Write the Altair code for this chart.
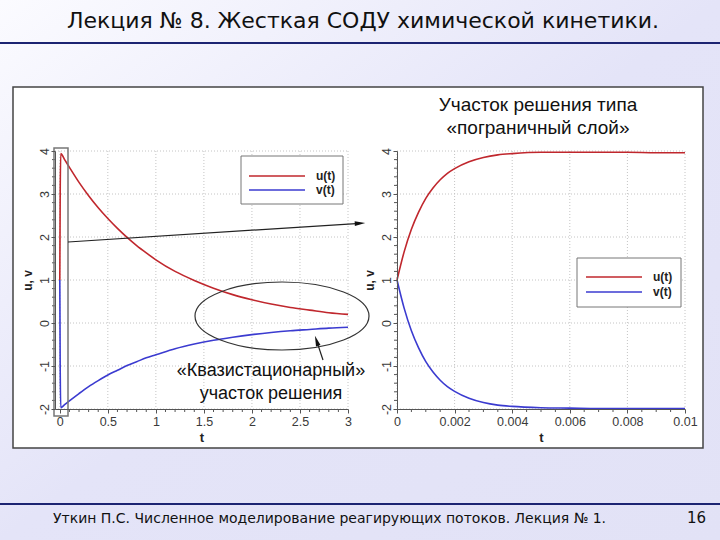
import altair as alt
import pandas as pd

# ---------------- texts ----------------
TITLE = "Лекция № 8. Жесткая СОДУ химической кинетики."
FOOTER = "Уткин П.С. Численное моделирование реагирующих потоков. Лекция № 1."
PAGE = "16"
RIGHT_TITLE = "Участок решения типа\n«пограничный слой»"
NOTE = "«Квазистационарный»\nучасток решения"
SERIES = ["u(t)", "v(t)"]
COLORS = ["#c0272d", "#3b3bd0"]
X_TITLE = "t"
Y_TITLE = "u, v"

# ---------------- data ----------------
t_left = [0.0, 0.004, 0.01, 0.05, 0.1, 0.2, 0.3, 0.4, 0.5, 0.6, 0.7, 0.8, 0.9, 1.0,
          1.2, 1.4, 1.6, 1.8, 2.0, 2.2, 2.4, 2.6, 2.8, 3.0]
u_left = [1.0, 3.0, 3.94, 3.8, 3.62, 3.27, 2.96, 2.68, 2.43, 2.2, 1.99, 1.8, 1.63, 1.47,
          1.2, 0.99, 0.81, 0.66, 0.54, 0.44, 0.36, 0.3, 0.24, 0.2]
v_left = [1.0, -1.0, -1.97, -1.9, -1.81, -1.64, -1.48, -1.34, -1.21, -1.1, -0.99, -0.9, -0.81, -0.74,
          -0.6, -0.49, -0.4, -0.33, -0.27, -0.22, -0.18, -0.15, -0.12, -0.1]

t_right = [0.0, 0.00025, 0.0005, 0.00075, 0.001, 0.00125, 0.0015, 0.00175, 0.002, 0.0025,
           0.003, 0.0035, 0.004, 0.005, 0.006, 0.007, 0.008, 0.009, 0.01]
u_right = [1.0, 1.66, 2.18, 2.58, 2.9, 3.14, 3.33, 3.48, 3.59, 3.75,
           3.85, 3.91, 3.94, 3.97, 3.97, 3.97, 3.97, 3.96, 3.96]
v_right = [1.0, 0.34, -0.18, -0.58, -0.9, -1.14, -1.33, -1.48, -1.59, -1.75,
           -1.85, -1.91, -1.94, -1.97, -1.98, -1.99, -1.99, -1.99, -1.99]

# ---------------- ticks ----------------
Y_TICKS = [-2, -1, 0, 1, 2, 3, 4]
Y_MINOR = [round(-2 + 0.2 * i, 1) for i in range(31) if i % 5 != 0]
XL_TICKS = [0, 0.5, 1, 1.5, 2, 2.5, 3]
XL_MINOR = [round(0.1 * i, 1) for i in range(31) if i % 5 != 0]
XR_TICKS = [0, 0.002, 0.004, 0.006, 0.008, 0.01]
XR_MINOR = [round(0.0005 * i, 4) for i in range(21) if i % 4 != 0]

# ---------------- layout (pixels) ----------------
W, H = 720, 540
Y_TOP, Y_BOT = 151, 409
SANS = "Liberation Sans"
SLIDE_FONT = "DejaVu Sans"
AXIS_C = "#555555"
LABEL_C = "#3a3a3a"

color_scale = alt.Scale(domain=SERIES, range=COLORS)
one = pd.DataFrame({"k": [0]})


def long_df(t, u, v):
    return pd.DataFrame({
        "t": t + t,
        "val": u + v,
        "series": [SERIES[0]] * len(t) + [SERIES[1]] * len(t),
    })


def panel(t, u, v, xdomain, xrange, xticks, xminor):
    """Returns a list of layers; every layer carries the same fully specified scales."""
    x0 = xrange[0]
    xs = alt.Scale(domain=xdomain, range=xrange, nice=False, zero=False)
    ys = alt.Scale(domain=[-2, 4], range=[Y_BOT, Y_TOP], nice=False, zero=False)
    x_axis = alt.Axis(
        orient="bottom", offset=-(H - Y_BOT), values=xticks, zindex=2,
        labelExpr="'' + datum.value", title=X_TITLE, grid=False,
        domainColor=AXIS_C, tickColor=AXIS_C, tickSize=4,
        labelFont=SANS, labelFontSize=12.5, labelColor=LABEL_C, labelPadding=2,
        labelFlush=False, labelOverlap=False,
        titleFont=SANS, titleFontSize=13, titleFontWeight="bold", titleColor="#222222",
        titlePadding=4,
    )
    y_axis = alt.Axis(
        orient="left", offset=-x0, values=Y_TICKS, zindex=2,
        labelExpr="'' + datum.value", title=Y_TITLE, grid=False,
        domainColor=AXIS_C, tickColor=AXIS_C, tickSize=4,
        labelFont=SANS, labelFontSize=12.5, labelColor=LABEL_C, labelPadding=0,
        labelAngle=270, labelAlign="center", labelBaseline="bottom",
        labelFlush=False, labelOverlap=False,
        titleFont=SANS, titleFontSize=12, titleFontWeight="bold", titleColor="#222222",
        titleAngle=270, titlePadding=4,
    )
    grid_x = alt.Chart(pd.DataFrame({"t": xticks})).mark_rule(
        color="#c4c4c4", strokeDash=[1, 2], strokeWidth=1
    ).encode(x=alt.X("t:Q", scale=xs, axis=None), y=alt.value(Y_TOP), y2=alt.value(Y_BOT))
    grid_y = alt.Chart(pd.DataFrame({"val": Y_TICKS})).mark_rule(
        color="#c4c4c4", strokeDash=[1, 2], strokeWidth=1
    ).encode(y=alt.Y("val:Q", scale=ys, axis=None), x=alt.value(xrange[0]), x2=alt.value(xrange[1]))
    minor_x = alt.Chart(pd.DataFrame({"t": xminor})).mark_rule(
        color=AXIS_C, strokeWidth=1
    ).encode(x=alt.X("t:Q", scale=xs, axis=None), y=alt.value(Y_BOT), y2=alt.value(Y_BOT + 3))
    minor_y = alt.Chart(pd.DataFrame({"val": Y_MINOR})).mark_rule(
        color=AXIS_C, strokeWidth=1
    ).encode(y=alt.Y("val:Q", scale=ys, axis=None), x=alt.value(x0 - 3), x2=alt.value(x0))
    lines = alt.Chart(long_df(t, u, v)).mark_line(
        strokeWidth=1.6, interpolate="monotone", clip=False
    ).encode(
        x=alt.X("t:Q", scale=xs, axis=x_axis),
        y=alt.Y("val:Q", scale=ys, axis=y_axis),
        color=alt.Color("series:N", scale=color_scale, legend=None),
    )
    return [grid_x, grid_y, minor_x, minor_y, lines]


def legend(bx0, bx1, by0, by1, lx0, lx1, tx, ypos):
    box = alt.Chart(one).mark_rect(fill="white", stroke="#777777", strokeWidth=1).encode(
        x=alt.value(bx0), x2=alt.value(bx1), y=alt.value(by0), y2=alt.value(by1))
    ysc = alt.Scale(type="point", domain=SERIES, range=ypos, padding=0)
    df = pd.DataFrame({"series": SERIES})
    ln = alt.Chart(df).mark_rule(strokeWidth=1.6).encode(
        x=alt.value(lx0), x2=alt.value(lx1),
        y=alt.Y("series:N", scale=ysc, axis=None),
        color=alt.Color("series:N", scale=color_scale, legend=None))
    tx_ = alt.Chart(df).mark_text(align="left", baseline="middle", font=SANS, fontSize=12,
                                  fontWeight="bold", color="#222222").encode(
        x=alt.value(tx), y=alt.Y("series:N", scale=ysc, axis=None), text="series:N")
    return [box, ln, tx_]


def text_layer(s, x, y, **kw):
    return alt.Chart(pd.DataFrame({"s": [s]})).mark_text(**kw).encode(
        x=alt.value(x), y=alt.value(y), text="s:N")


# ---------------- slide decorations ----------------
bg = alt.Chart(one).mark_rect(
    color=alt.LinearGradient(
        gradient="linear", x1=0, y1=0, x2=1, y2=1,
        stops=[alt.GradientStop(color="#fbfbff", offset=0),
               alt.GradientStop(color="#e4e4f8", offset=0.5),
               alt.GradientStop(color="#e2e2f6", offset=1)])
).encode(x=alt.value(0), x2=alt.value(W), y=alt.value(0), y2=alt.value(H))

top_line = alt.Chart(one).mark_rule(color="#1c2472", strokeWidth=2).encode(
    x=alt.value(0), x2=alt.value(W), y=alt.value(43))
bot_line = alt.Chart(one).mark_rule(color="#1c2472", strokeWidth=2).encode(
    x=alt.value(0), x2=alt.value(W), y=alt.value(504))

title = text_layer(TITLE, 363, 28, font=SLIDE_FONT, fontSize=22, align="center",
                   baseline="alphabetic", color="#111111")
footer = text_layer(FOOTER, 53, 523, font=SLIDE_FONT, fontSize=14, align="left",
                    baseline="alphabetic", color="#111111")
page = text_layer(PAGE, 706, 523, font=SLIDE_FONT, fontSize=15, align="right",
                  baseline="alphabetic", color="#111111")

frame = alt.Chart(one).mark_rect(fill="white", stroke="#444444", strokeWidth=1.5).encode(
    x=alt.value(13), x2=alt.value(703), y=alt.value(87), y2=alt.value(448))

left = panel(t_left, u_left, v_left, [-0.05, 3], [55, 348], XL_TICKS, XL_MINOR)
right = panel(t_right, u_right, v_right, [0, 0.01], [397, 685], XR_TICKS, XR_MINOR)

zero_box = alt.Chart(one).mark_rect(fillOpacity=0, stroke="#777777", strokeWidth=1.5).encode(
    x=alt.value(54), x2=alt.value(68), y=alt.value(148), y2=alt.value(416))

ELLIPSE = "M -1 0 A 1 0.391 0 1 1 1 0 A 1 0.391 0 1 1 -1 0 Z"
ellipse = alt.Chart(one).mark_point(shape=ELLIPSE, size=174 * 174, filled=False,
                                    color="#333333", strokeWidth=1.2, opacity=1).encode(
    x=alt.value(282), y=alt.value(316))

HEAD = "M 1 0 L -1 -0.45 L -1 0.45 Z"
arrow1 = alt.Chart(one).mark_rule(color="#222222", strokeWidth=1.2).encode(
    x=alt.value(68), y=alt.value(242), x2=alt.value(360), y2=alt.value(223.3))
head1 = alt.Chart(one).mark_point(shape=HEAD, size=110, filled=True, color="#111111",
                                  opacity=1, angle=356.5).encode(
    x=alt.value(360), y=alt.value(223.3))
arrow2 = alt.Chart(one).mark_rule(color="#222222", strokeWidth=1.2).encode(
    x=alt.value(323), y=alt.value(360), x2=alt.value(316.6), y2=alt.value(340.7))
head2 = alt.Chart(one).mark_point(shape=HEAD, size=110, filled=True, color="#111111",
                                  opacity=1, angle=251.6).encode(
    x=alt.value(316.6), y=alt.value(340.7))

note = text_layer(NOTE, 271, 371, font=SANS, fontSize=18, align="center", baseline="middle",
                  lineBreak="\n", lineHeight=23, color="#111111")
rtitle = text_layer(RIGHT_TITLE, 538, 105, font=SANS, fontSize=19, align="center",
                    baseline="middle", lineBreak="\n", lineHeight=23, color="#111111")

leg_left = legend(241, 343, 156, 204, 249, 305, 316, [176, 190])
leg_right = legend(577, 681, 258, 307, 586, 642, 653, [277, 292])

chart = alt.layer(
    bg, top_line, bot_line, title, footer, page, frame,
    *left, *right, zero_box, ellipse, arrow1, head1, arrow2, head2,
    note, rtitle, *leg_left, *leg_right,
).resolve_scale(x="independent", y="independent").properties(
    width=W, height=H, padding=0,
    autosize=alt.AutoSizeParams(type="none"),
).configure_view(stroke=None)

chart.save("out.html", embed_options={"renderer": "svg", "actions": False})
